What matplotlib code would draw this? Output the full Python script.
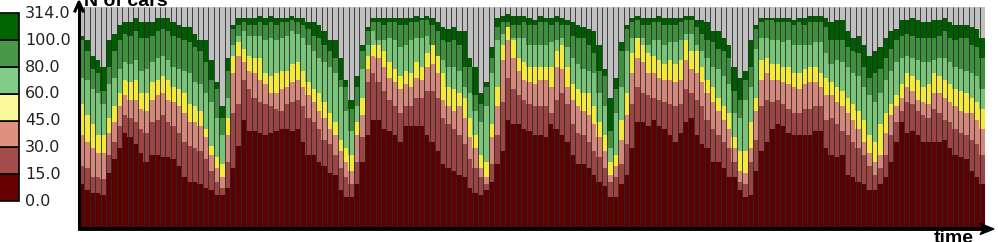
import numpy as np
import matplotlib
matplotlib.use("Agg")
import matplotlib.pyplot as plt
from matplotlib.patches import Rectangle, Polygon

# speed class bounds shown in the legend (bottom -> top)
class_labels = ["0.0", "15.0", "30.0", "45.0", "60.0", "80.0", "100.0", "314.0"]

# cumulative share of cars (%) up to the upper bound of each class, one value per hour (7 days x 24 h)
cum_15 = ([20,17,16,16,15,25,31,36,43,41,38,34,30,33,33,32,32,31,28,23,21,21,20,18,17,15,15,18]
          + [27,37,49,44,44,43,42,43,44,45,45,44,45,39,33,33,30,28,25,24,17,14,14,20,30,42,49,49]
          + [45,44,42,39,46,46,46,46,42,39,35,29,27,26,24,23,18,16,15,17,21,29,35,49,47,47,45]
          + [44,42,42,41,47,45,42,39,33,29,29,27,24,21,19,14,14,20,24,36,48,48,46,49,46,45,42,39]
          + [43,48,50,42,38,36,30,30,27,23,23,17,14,15,26,35,39,45,47,46,43,42,42,42,42,44,44,36]
          + [33,32,33,24,23,21,20,17,17,20,23,30,39,48,43,44,42,39,39,39,39,40,36,33,32,31,26,23,20])
cum_30 = ([28,27,23,23,22,33,39,46,51,50,48,45,43,48,49,51,48,46,43,39,37,36,35,31,26,21,18,30]
          + [52,56,67,63,59,57,56,55,54,53,56,57,58,55,50,48,45,40,38,33,27,23,20,30,41,66,70,66]
          + [62,58,55,52,55,55,59,59,62,62,59,50,47,45,42,38,31,27,23,20,29,42,57,68,63,60,58]
          + [56,55,55,55,52,58,61,56,47,43,42,39,35,32,27,21,23,29,38,56,64,61,60,59,58,57,56,55]
          + [56,63,61,58,55,49,45,42,39,36,30,21,20,30,40,55,58,57,58,56,54,52,52,54,54,55,55,49]
          + [50,47,44,42,39,36,33,28,24,27,33,42,48,53,57,56,53,51,50,54,52,49,48,45,43,42,40,38,33])
cum_45 = ([42,39,36,34,34,43,48,55,60,58,58,54,53,58,60,61,58,57,55,52,48,48,46,41,33,27,23,42]
          + [70,78,75,71,70,67,65,61,61,63,64,66,67,64,60,57,53,50,45,42,35,30,26,42,51,72,78,77]
          + [73,68,66,63,65,64,68,67,73,74,70,58,55,53,55,50,41,36,27,23,41,55,76,85,77,71,67]
          + [66,65,67,67,64,73,72,64,58,55,53,51,47,41,35,24,28,40,51,70,77,75,70,70,68,67,67,66]
          + [67,76,72,70,66,61,57,53,49,45,36,26,25,36,53,67,70,67,67,66,65,64,63,65,66,66,64,60]
          + [60,57,55,52,49,45,39,34,30,33,43,51,55,59,64,62,58,57,56,61,61,59,57,55,53,52,52,49,45])
cum_60 = ([56,51,47,42,42,50,55,61,67,66,67,61,61,66,67,69,67,64,63,61,56,55,53,45,37,32,29,50]
          + [78,84,81,78,77,77,70,69,70,71,71,74,75,71,66,63,61,57,52,48,40,36,33,48,59,78,83,83]
          + [80,75,72,69,71,70,75,73,79,83,78,70,64,63,61,59,50,42,33,30,47,64,83,91,85,77,75]
          + [73,73,73,73,73,80,83,73,65,63,61,61,55,48,42,30,33,49,61,79,86,83,79,78,76,74,76,74]
          + [76,85,80,80,73,67,64,59,55,52,41,35,35,48,59,76,77,74,74,73,73,70,70,72,73,73,70,68]
          + [66,64,62,59,56,53,49,42,39,47,52,56,60,65,70,69,67,64,65,70,69,67,65,63,62,61,59,57,54])
cum_80 = ([68,67,63,61,56,65,68,72,75,74,76,71,72,75,77,78,76,73,72,71,70,66,65,61,57,50,42,59]
          + [83,87,89,87,87,87,85,86,85,86,87,89,88,86,83,80,77,75,73,70,64,53,44,55,72,83,89,85]
          + [85,86,85,82,83,85,86,86,87,82,78,76,73,73,71,64,61,53,48,55,70,85,88,88,86,86,86]
          + [83,83,83,83,84,85,86,82,77,74,72,71,70,61,55,36,52,64,80,86,86,86,83,85,85,83,84,84]
          + [85,88,88,83,80,77,73,72,69,65,52,50,58,64,81,86,86,85,85,84,85,83,83,83,83,84,84,79]
          + [74,76,75,73,70,69,64,60,57,61,67,71,75,77,78,77,76,75,75,76,77,77,75,73,72,71,70,69,63])
cum_100 = ([85,80,72,70,62,73,80,85,88,87,89,86,86,87,89,90,89,87,86,85,84,82,80,75,67,63,50,71]
           + [90,92,93,92,92,93,92,93,92,93,93,94,93,92,90,87,86,83,80,77,67,64,54,64,80,89,93,93]
           + [92,93,93,92,92,93,93,94,94,92,89,85,84,85,83,73,73,60,56,64,77,91,93,93,92,92,93]
           + [92,92,93,93,92,93,92,92,87,86,86,83,79,71,69,44,63,80,90,93,94,92,92,93,93,92,92,92]
           + [93,94,94,91,88,85,84,81,80,77,62,58,67,73,90,93,94,94,93,93,93,92,93,92,93,93,93,91]
           + [85,85,85,82,80,79,73,68,70,72,77,81,85,87,88,87,86,86,86,86,87,89,86,85,86,86,83,82,77])
cum_314 = ([87,85,78,76,73,85,88,92,93,93,95,93,93,93,95,95,95,93,92,91,91,88,85,85,76,66,55,77]
           + [92,95,95,95,95,96,95,96,95,95,95,96,95,95,93,93,92,89,85,85,77,67,58,69,83,91,95,95]
           + [95,95,95,95,95,95,96,95,96,95,93,91,90,91,89,89,77,73,61,66,82,95,96,97,96,96,96]
           + [95,94,96,95,95,96,95,94,93,92,91,90,89,83,72,59,68,84,92,95,96,95,95,95,96,95,95,95]
           + [95,96,96,94,94,93,89,89,86,83,73,68,71,85,92,95,95,95,95,95,95,94,95,95,96,96,96,95]
           + [93,94,94,89,86,87,83,78,80,82,86,89,90,94,94,95,94,93,93,94,94,95,93,92,92,92,91,90,86])

bar_colors = ["#5a0000", "#9a4444", "#d4887c", "#f4ea3c", "#78c478", "#3f8f3f", "#005c00", "#c0c0c0"]
legend_colors = ["#640000", "#a44c4c", "#e0907f", "#fcf99c", "#80cc88", "#489848", "#006400"]

W, H = 998, 242
fig = plt.figure(figsize=(W / 100, H / 100), dpi=100)

# main stacked bar chart
ax = fig.add_axes([79 / W, (H - 228) / H, 906 / W, 221 / H])
cum = np.array([cum_15, cum_30, cum_45, cum_60, cum_80, cum_100, cum_314], dtype=float)
cum = np.maximum.accumulate(cum, axis=0)
n = cum.shape[1]
edges = np.vstack([np.zeros(n), cum, np.full(n, 100.0)])
heights = np.diff(edges, axis=0)
x = np.arange(n)
for k in range(heights.shape[0]):
    ax.bar(x, heights[k], bottom=edges[k], width=1.08, color=bar_colors[k],
           linewidth=0, antialiased=False)
ax.vlines(np.arange(n + 1) - 0.5, 0, 100, color="#2a2a2a", linewidth=0.6)
ax.set_xlim(-0.5, n - 0.5)
ax.set_ylim(0, 100)
ax.axis("off")

# overlay in pixel units for legend and axis arrows
ov = fig.add_axes([0, 0, 1, 1])
ov.set_xlim(0, W)
ov.set_ylim(H, 0)
ov.axis("off")

box_h = 26.8
for k in range(7):
    ytop = 201 - (k + 1) * box_h
    ov.add_patch(Rectangle((-1, ytop), 20, box_h, facecolor=legend_colors[k],
                           edgecolor="black", linewidth=1.2))
for k, lab in enumerate(class_labels):
    ov.text(25, 201 - k * box_h, lab, ha="left", va="center", fontsize=11.5,
            family="DejaVu Sans", color="#222222")

# axes with arrows
ov.plot([79, 79], [229, 3], color="black", linewidth=2.2, solid_capstyle="butt")
ov.plot([75, 79, 83], [11, 2, 11], color="black", linewidth=2.2)
ov.plot([78, 984], [229, 229], color="black", linewidth=2.8, solid_capstyle="butt")
ov.add_patch(Polygon([[980, 223.5], [994, 229], [980, 234.5], [984, 229]], closed=True,
                     facecolor="black", edgecolor="black", linewidth=1))

ov.text(84, 6, "N of cars", ha="left", va="baseline", fontsize=14, fontweight="bold",
        family="Liberation Sans", color="black")
ov.text(934, 243, "time", ha="left", va="baseline", fontsize=14, fontweight="bold",
        family="Liberation Sans", color="black")

fig.savefig("out.png", dpi=100)
